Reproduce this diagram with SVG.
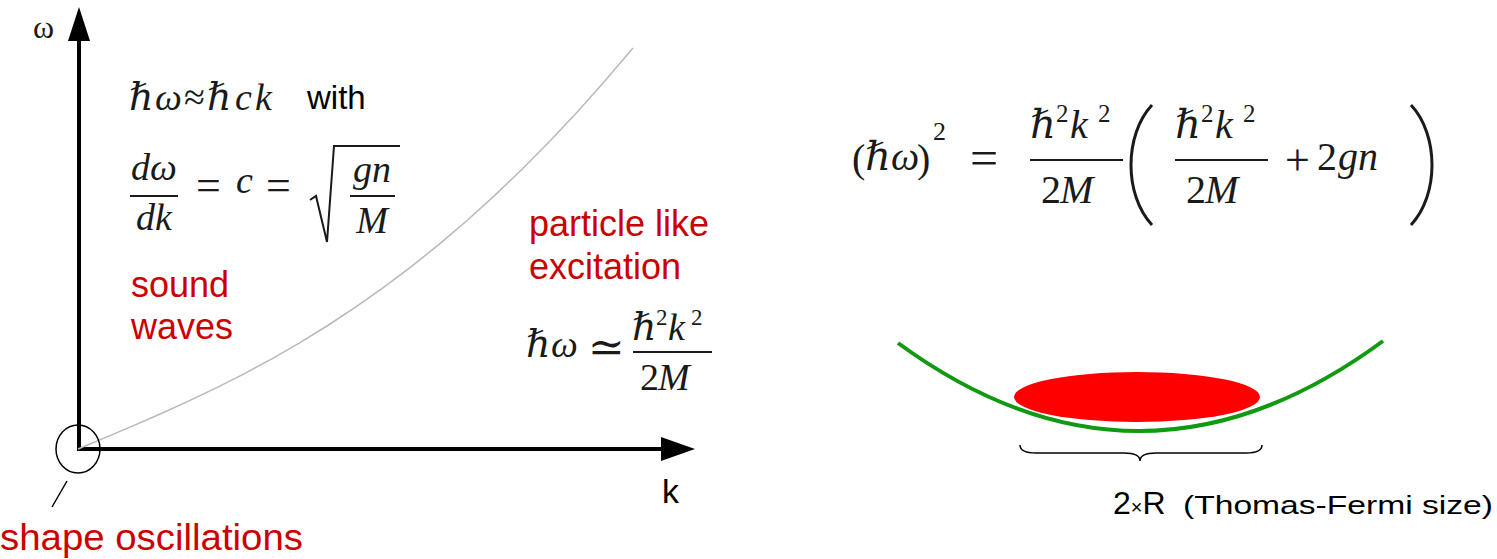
<svg xmlns="http://www.w3.org/2000/svg" width="1497" height="559" viewBox="0 0 1497 559">
<style>
.m{font-family:"Liberation Serif","DejaVu Serif",serif;font-style:italic;fill:#1a1a1a;font-size:38px}
.r{font-family:"Liberation Serif","DejaVu Serif",serif;fill:#1a1a1a;font-size:38px}
.eq{font-family:"Liberation Serif","DejaVu Serif",serif;fill:#1a1a1a;font-size:44px}
.sup{font-family:"Liberation Serif","DejaVu Serif",serif;fill:#1a1a1a;font-size:23px}
.s{font-family:"Liberation Sans",Arial,sans-serif;fill:#000}
.red{font-family:"Liberation Sans",Arial,sans-serif;fill:#cc0000;font-size:36px}
.bar{stroke:#1a1a1a;stroke-width:2}
.big{font-size:40px}
</style>
<rect width="1497" height="559" fill="#fff"/>
<g id="axes">
<line x1="79" y1="451" x2="79" y2="38" stroke="#000" stroke-width="4"/>
<polygon points="68,41 79,7 90,41" fill="#000"/>
<line x1="77" y1="449" x2="665" y2="449" stroke="#000" stroke-width="4"/>
<polygon points="661,437 695,449 661,461" fill="#000"/>
<text x="33" y="38" class="r" style="font-size:32px">ω</text>
<text x="662" y="503" class="s" font-size="34">k</text>
</g>
<g id="curve">
<polyline fill="none" stroke="#b8b8b8" stroke-width="1.5" points="78,449 105.75,437.4 133.5,425.6 161.25,413.5 189,400.9 216.75,387.6 244.5,373.6 272.25,358.6 300,342.6 327.75,325.5 355.5,307.2 383.25,287.7 411,266.8 438.75,244.6 466.5,221 494.25,195.9 522,169.3 549.75,141.3 577.5,111.7 605.25,80.6 633,48"/>
</g>
<g id="origin">
<ellipse cx="78" cy="449" rx="22" ry="24" fill="none" stroke="#000" stroke-width="1.5"/>
<line x1="67" y1="481" x2="52" y2="507" stroke="#000" stroke-width="1.5"/>
<text x="0" y="550" class="red" style="font-size:37px" textLength="303" lengthAdjust="spacingAndGlyphs">shape oscillations</text>
</g>
<g id="sound">
<text x="129" y="110" class="m">ℏ</text>
<text x="155" y="110" class="m">ω</text>
<text x="184" y="110" class="r">≈</text>
<text x="207" y="110" class="m">ℏ</text>
<text x="235" y="110" class="m">c</text>
<text x="255" y="110" class="m">k</text>
<text x="307" y="109" class="s" font-size="33">with</text>
<text x="154" y="180" class="m" text-anchor="middle">dω</text>
<line x1="130" y1="196" x2="178" y2="196" class="bar"/>
<text x="154" y="230" class="m" text-anchor="middle">dk</text>
<text x="196" y="200" class="eq">=</text>
<text x="236" y="193" class="m">c</text>
<text x="266" y="200" class="eq">=</text>
<path d="M310,200 L316,196 L327,242 L334,146 L400,146" fill="none" stroke="#1a1a1a" stroke-width="2"/>
<text x="372" y="182" class="m" text-anchor="middle">gn</text>
<line x1="350" y1="196" x2="395" y2="196" class="bar"/>
<text x="372" y="233" class="m" text-anchor="middle">M</text>
<text x="131" y="297" class="red">sound</text>
<text x="131" y="339" class="red">waves</text>
</g>
<g id="particle">
<text x="529" y="236" class="red">particle like</text>
<text x="529" y="279" class="red">excitation</text>
<text x="526" y="357" class="m">ℏ</text>
<text x="551" y="357" class="m">ω</text>
<text x="588" y="362" class="eq">≃</text>
<text x="632" y="340" class="m">ℏ</text>
<text x="656" y="325" class="sup">2</text>
<text x="668" y="340" class="m">k</text>
<text x="691" y="325" class="sup">2</text>
<line x1="633" y1="352" x2="712" y2="352" class="bar"/>
<text x="659" y="390" class="r" text-anchor="end">2</text>
<text x="658" y="390" class="m">M</text>
</g>
<g id="bogoliubov">
<text x="852" y="172" class="r big">(</text>
<text x="865" y="170" class="m big">ℏ</text>
<text x="891" y="170" class="m big">ω</text>
<text x="917" y="172" class="r big">)</text>
<text x="933" y="140" class="sup" style="font-size:26px">2</text>
<text x="970" y="175" class="eq" style="font-size:50px">=</text>
<text x="1030" y="138" class="m big">ℏ</text>
<text x="1056" y="122" class="sup" style="font-size:25px">2</text>
<text x="1070" y="138" class="m big">k</text>
<text x="1098" y="122" class="sup" style="font-size:25px">2</text>
<line x1="1030" y1="160" x2="1123" y2="160" class="bar"/>
<text x="1061" y="203" class="r big" text-anchor="end">2</text>
<text x="1060" y="203" class="m big">M</text>
<path d="M1152,105 C1124,135 1124,195 1152,225" fill="none" stroke="#1a1a1a" stroke-width="3"/>
<text x="1175" y="138" class="m big">ℏ</text>
<text x="1201" y="122" class="sup" style="font-size:25px">2</text>
<text x="1215" y="138" class="m big">k</text>
<text x="1243" y="122" class="sup" style="font-size:25px">2</text>
<line x1="1175" y1="160" x2="1268" y2="160" class="bar"/>
<text x="1206" y="203" class="r big" text-anchor="end">2</text>
<text x="1205" y="203" class="m big">M</text>
<text x="1285" y="175" class="eq">+</text>
<text x="1317" y="170" class="r big">2</text>
<text x="1338" y="170" class="m big">gn</text>
<path d="M1411,105 C1439,135 1439,195 1411,225" fill="none" stroke="#1a1a1a" stroke-width="3"/>
</g>
<g id="trap">
<path d="M898,343 Q1140,520 1383,341" fill="none" stroke="#119911" stroke-width="4"/>
<ellipse cx="1137" cy="397" rx="123" ry="25" fill="#ff0000"/>
<path d="M1020,445 Q1020,453 1036,453 L1124,453 Q1140,453 1140,461 Q1140,453 1156,453 L1246,453 Q1262,453 1262,445" fill="none" stroke="#000" stroke-width="1.5"/>
<text x="1113" y="514" class="s" font-size="32">2<tspan font-size="20">×</tspan>R</text>
<text x="1183" y="514" class="s" font-size="25" textLength="310" lengthAdjust="spacingAndGlyphs">(Thomas-Fermi size)</text>
</g>
</svg>
